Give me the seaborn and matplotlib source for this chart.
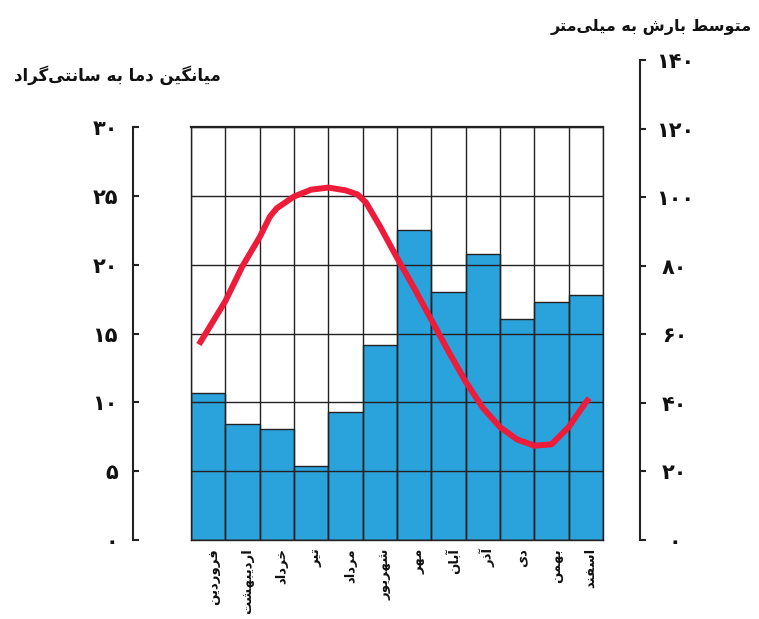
import matplotlib
matplotlib.use('Agg')
import matplotlib.pyplot as plt
import matplotlib.transforms as mtransforms
import seaborn as sns
import pandas as pd
import numpy as np

# ---------------- data ----------------
months = ['فروردین', 'اردیبهشت', 'خرداد', 'تیر', 'مرداد', 'شهریور',
          'مهر', 'آبان', 'آذر', 'دی', 'بهمن', 'اسفند']
precip = [42.6, 33.6, 32.2, 21.6, 37.1, 56.6, 90.1, 72.0, 83.0, 64.2, 69.1, 71.3]

# temperature curve (x in month positions)
temp_pos = [-0.27, 0.0, 0.5, 1.0, 1.5, 1.8, 2.0, 2.5, 3.0, 3.5, 4.0, 4.35, 4.6,
            5.0, 5.5, 6.0, 6.5, 7.0, 7.5, 8.0, 8.5, 9.0, 9.5, 10.0, 10.5, 11.0, 11.1]
temp_vals = [14.2, 15.3, 17.35, 19.9, 22.0, 23.5, 24.1, 24.95, 25.45, 25.6, 25.4, 25.1, 24.5,
             22.8, 20.5, 18.3, 16.0, 13.7, 11.5, 9.6, 8.2, 7.3, 6.85, 6.95, 8.2, 10.0, 10.3]

temp_ticks = [0, 5, 10, 15, 20, 25, 30]
temp_labels = ['۰', '۵', '۱۰', '۱۵', '۲۰', '۲۵', '۳۰']
precip_ticks = [0, 20, 40, 60, 80, 100, 120, 140]
precip_labels = ['۰', '۲۰', '۴۰', '۶۰', '۸۰', '۱۰۰', '۱۲۰', '۱۴۰']

title_temp = 'میانگین دما به سانتی\u200cگراد'
title_precip = 'متوسط بارش به میلی\u200cمتر'

BLUE = '#2aa2db'
RED = '#ec1c3a'
DARK = '#222222'

# ------------- minimal Arabic/Persian shaping for display -------------
FORMS = {  # isolated, final, initial, medial
    'ا': ('\uFE8D', '\uFE8E', None, None),
    'آ': ('\uFE81', '\uFE82', None, None),
    'ب': ('\uFE8F', '\uFE90', '\uFE91', '\uFE92'),
    'ت': ('\uFE95', '\uFE96', '\uFE97', '\uFE98'),
    'خ': ('\uFEA5', '\uFEA6', '\uFEA7', '\uFEA8'),
    'د': ('\uFEA9', '\uFEAA', None, None),
    'ذ': ('\uFEAB', '\uFEAC', None, None),
    'ر': ('\uFEAD', '\uFEAE', None, None),
    'س': ('\uFEB1', '\uFEB2', '\uFEB3', '\uFEB4'),
    'ش': ('\uFEB5', '\uFEB6', '\uFEB7', '\uFEB8'),
    'ط': ('\uFEC1', '\uFEC2', '\uFEC3', '\uFEC4'),
    'ف': ('\uFED1', '\uFED2', '\uFED3', '\uFED4'),
    'ل': ('\uFEDD', '\uFEDE', '\uFEDF', '\uFEE0'),
    'م': ('\uFEE1', '\uFEE2', '\uFEE3', '\uFEE4'),
    'ن': ('\uFEE5', '\uFEE6', '\uFEE7', '\uFEE8'),
    'ه': ('\uFEE9', '\uFEEA', '\uFEEB', '\uFEEC'),
    'و': ('\uFEED', '\uFEEE', None, None),
    'ی': ('\uFBFC', '\uFBFD', '\uFBFE', '\uFBFF'),
    'گ': ('\uFB92', '\uFB93', '\uFB94', '\uFB95'),
}


def shape(s):
    out = []
    n = len(s)
    for i, c in enumerate(s):
        if c not in FORMS:
            if c != '\u200c':
                out.append(c)
            continue
        prev_join = i > 0 and s[i - 1] in FORMS and FORMS[s[i - 1]][2] is not None
        next_join = FORMS[c][2] is not None and i + 1 < n and s[i + 1] in FORMS
        iso, fin, ini, med = FORMS[c]
        if prev_join and next_join:
            out.append(med)
        elif prev_join:
            out.append(fin)
        elif next_join:
            out.append(ini)
        else:
            out.append(iso)
    return ''.join(reversed(out))


# ---------------- figure ----------------
sns.set_theme(style='white')
plt.rcParams['font.family'] = ['DejaVu Sans']

W, H = 759, 619
fig = plt.figure(figsize=(W / 100, H / 100), dpi=100)
fig.patch.set_facecolor('white')


def rect(x0, y0, x1, y1):
    return [x0 / W, 1 - y1 / H, (x1 - x0) / W, (y1 - y0) / H]


box = rect(191, 127, 603, 540)

# bars (precipitation, 0-120 mm inside the box)
ax_bars = fig.add_axes(box)
df = pd.DataFrame({'month': months, 'precip': precip})
sns.barplot(data=df, x='month', y='precip', ax=ax_bars, color=BLUE, width=1.0,
            saturation=1, edgecolor=DARK, linewidth=1.0)
ax_bars.set_xlim(-0.5, 11.5)
ax_bars.set_ylim(0, 120)
ax_bars.set_xlabel('')
ax_bars.set_ylabel('')
ax_bars.set_yticks([])
ax_bars.set_xticks(range(len(months)))
ax_bars.set_xticklabels([shape(m) for m in months], rotation=90,
                        fontsize=9.5, fontweight='bold', color='#111111')
ax_bars.tick_params(axis='x', length=0, pad=6)
shift = mtransforms.ScaledTranslation(5 / 100, 0, fig.dpi_scale_trans)
for lab in ax_bars.get_xticklabels():
    lab.set_transform(lab.get_transform() + shift)
for sp in ax_bars.spines.values():
    sp.set_visible(False)

# overlay: grid + temperature line (0-30 C)
ax_top = fig.add_axes(box)
ax_top.set_facecolor('none')
ax_top.set_xlim(-0.5, 11.5)
ax_top.set_ylim(0, 30)
ax_top.set_xticks(np.arange(-0.5, 12, 1.0))
ax_top.set_yticks(temp_ticks)
ax_top.grid(True, color=DARK, linewidth=1.0)
ax_top.set_axisbelow(True)
ax_top.tick_params(length=0, labelbottom=False, labelleft=False)
for name, sp in ax_top.spines.items():
    sp.set_color(DARK)
    sp.set_linewidth(1.6 if name == 'top' else 1.0)
sns.lineplot(x=temp_pos, y=temp_vals, ax=ax_top, color=RED, linewidth=4.3,
             sort=False, estimator=None)
ax_top.lines[-1].set_solid_capstyle('butt')
ax_top.set_xlabel('')
ax_top.set_ylabel('')

# left temperature axis
ax_l = fig.add_axes(rect(133, 127, 143, 540))
ax_l.set_facecolor('none')
for name, sp in ax_l.spines.items():
    sp.set_visible(name == 'left')
ax_l.spines['left'].set_color(DARK)
ax_l.spines['left'].set_linewidth(1.5)
ax_l.set_xticks([])
ax_l.set_ylim(0, 30)
ax_l.set_yticks(temp_ticks)
ax_l.set_yticklabels(temp_labels, fontsize=15, fontweight='bold', color='#111111')
ax_l.tick_params(axis='y', left=True, direction='in', length=4, width=1.5,
                 color=DARK, pad=11)

# right precipitation axis
ax_r = fig.add_axes(rect(630, 60, 640, 540))
ax_r.set_facecolor('none')
for name, sp in ax_r.spines.items():
    sp.set_visible(name == 'right')
ax_r.spines['right'].set_color(DARK)
ax_r.spines['right'].set_linewidth(1.5)
ax_r.set_xticks([])
ax_r.yaxis.tick_right()
ax_r.set_ylim(0, 140)
ax_r.set_yticks(precip_ticks)
ax_r.set_yticklabels(precip_labels, fontsize=15, fontweight='bold', color='#111111')
ax_r.tick_params(axis='y', right=True, left=False, direction='out', length=4,
                 width=1.5, color=DARK, pad=21)
for t in ax_r.get_yticklabels():
    t.set_horizontalalignment('center')

# titles
fig.text(117 / W, 1 - 75 / H, shape(title_temp), ha='center', va='center',
         fontsize=12, fontweight='bold', color='#111111')
fig.text(752 / W, 1 - 27 / H, shape(title_precip), ha='right', va='center',
         fontsize=11.5, fontweight='bold', color='#111111')

fig.savefig('out.png', dpi=100, facecolor='white')
